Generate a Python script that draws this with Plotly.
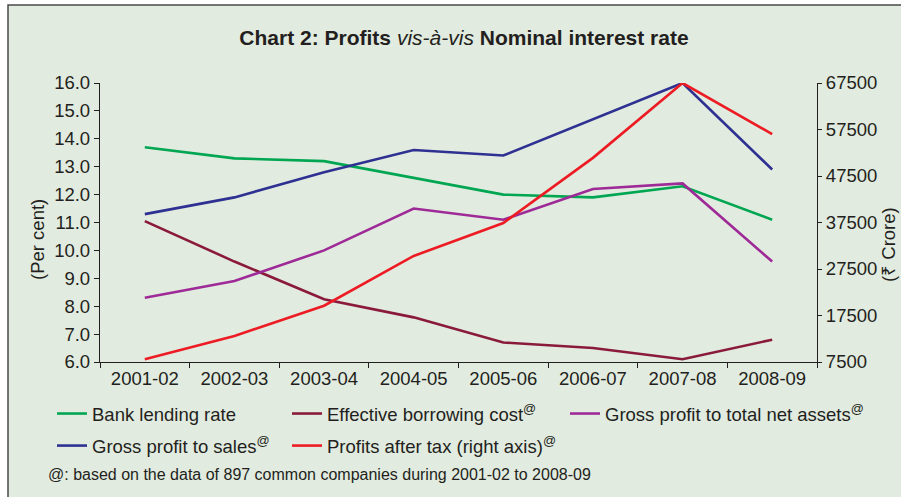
import plotly.graph_objects as go

# ---------------- data ----------------
years = ["2001-02", "2002-03", "2003-04", "2004-05", "2005-06", "2006-07", "2007-08", "2008-09"]
bank_lending_rate = [13.7, 13.3, 13.2, 12.6, 12.0, 11.9, 12.3, 11.1]
effective_borrowing_cost = [11.05, 9.6, 8.25, 7.6, 6.7, 6.5, 6.1, 6.8]
gp_total_net_assets = [8.3, 8.9, 10.0, 11.5, 11.1, 12.2, 12.4, 9.6]
gp_to_sales = [11.3, 11.9, 12.8, 13.6, 13.4, 14.7, 16.0, 12.9]
profits_after_tax = [8100, 13100, 19600, 30300, 37400, 51400, 67500, 56500]

left_ticks = [6.0, 7.0, 8.0, 9.0, 10.0, 11.0, 12.0, 13.0, 14.0, 15.0, 16.0]
right_ticks = [7500, 17500, 27500, 37500, 47500, 57500, 67500]

# ---------------- layout geometry ----------------
W, H = 901, 497
L, R, T, B = 100, 84, 83, 135
PW, PH = W - L - R, H - T - B
FONT = "Liberation Sans, Arial, Helvetica, sans-serif"
TXT = "#231f20"
BG = "#e2ebdf"


def px(x):
    return (x - L) / PW


def py(y):
    return (H - B - y) / PH


fig = go.Figure()

series = [
    ("Bank lending rate", bank_lending_rate, "#00a651", "y", "legend", "g1"),
    ("Effective borrowing cost<sup>@</sup>", effective_borrowing_cost, "#8a1a3c", "y", "legend2", "g3"),
    ("Gross profit to total net assets<sup>@</sup>", gp_total_net_assets, "#9e2a98", "y", "legend3", "g5"),
    ("Gross profit to sales<sup>@</sup>", gp_to_sales, "#2e3192", "y", "legend", "g2"),
    ("Profits after tax (right axis)<sup>@</sup>", profits_after_tax, "#ed1c24", "y2", "legend2", "g4"),
]
for name, vals, col, ax, lg, grp in series:
    fig.add_trace(go.Scatter(
        x=years, y=vals, name=name, mode="lines", yaxis=ax, legend=lg,
        legendgroup=grp, line=dict(color=col, width=2.6),
    ))

legend_common = dict(
    xref="paper", yref="paper", xanchor="left", yanchor="top",
    orientation="v", bgcolor="rgba(0,0,0,0)", borderwidth=0,
    font=dict(family=FONT, size=18.5, color=TXT),
    traceorder="grouped", tracegroupgap=5,
)
ly = py(395)

axis_common = dict(
    ticks="outside", tickwidth=1.3, tickcolor=TXT,
    showline=True, linecolor=TXT, linewidth=1.3, showgrid=False,
    zeroline=False, automargin=False,
    tickfont=dict(family=FONT, size=18.5, color=TXT),
)

fig.update_layout(
    width=W, height=H,
    margin=dict(l=L, r=R, t=T, b=B, pad=0, autoexpand=False),
    paper_bgcolor="white",
    plot_bgcolor="rgba(0,0,0,0)",
    font=dict(family=FONT, size=18.5, color=TXT),
    title=dict(
        text="<b>Chart 2: Profits </b><i>vis-à-vis</i><b> Nominal interest rate</b>",
        x=464 / W, xanchor="center", xref="container",
        y=1 - 38 / H, yanchor="middle", yref="container",
        font=dict(family=FONT, size=21, color=TXT),
    ),
    showlegend=True,
    legend=dict(x=px(52), y=ly, **legend_common),
    legend2=dict(x=px(287), y=ly, **legend_common),
    legend3=dict(x=px(565), y=ly, **legend_common),
    xaxis=dict(
        type="category", range=[-0.5, 7.5], tickson="boundaries",
        ticklen=5, tickangle=0, **axis_common,
    ),
    yaxis=dict(
        range=[6, 16], tickvals=left_ticks, tickformat=".1f",
        ticklen=5, **axis_common,
    ),
    yaxis2=dict(
        overlaying="y", side="right", range=[7500, 67500], tickvals=right_ticks,
        tickformat="d", ticklen=4, **axis_common,
    ),
)

# frame / panel background
fig.add_shape(
    type="rect", xref="paper", yref="paper", layer="below",
    x0=px(8), x1=px(W + 10), y0=py(H + 10), y1=py(5),
    fillcolor=BG, line=dict(color="#4a4a4a", width=1.5),
)

# axis titles and footnote
fig.add_annotation(
    text="(Per cent)", xref="paper", yref="paper", x=px(37), y=py(240),
    textangle=-90, showarrow=False, xanchor="center", yanchor="middle",
    font=dict(family=FONT, size=18.5, color=TXT),
)
fig.add_annotation(
    text="(₹ Crore)", xref="paper", yref="paper", x=px(889), y=py(245),
    textangle=-90, showarrow=False, xanchor="center", yanchor="middle",
    font=dict(family=FONT, size=18.5, color=TXT),
)
fig.add_annotation(
    text="@: based on the data of 897 common companies during 2001-02 to 2008-09",
    xref="paper", yref="paper", x=px(46), y=py(474),
    showarrow=False, xanchor="left", yanchor="middle",
    font=dict(family=FONT, size=16, color=TXT),
)

fig.write_html(
    "out.html",
    config={"displayModeBar": False},
    post_script="document.body.style.margin='0px';document.body.style.overflow='hidden';",
)
